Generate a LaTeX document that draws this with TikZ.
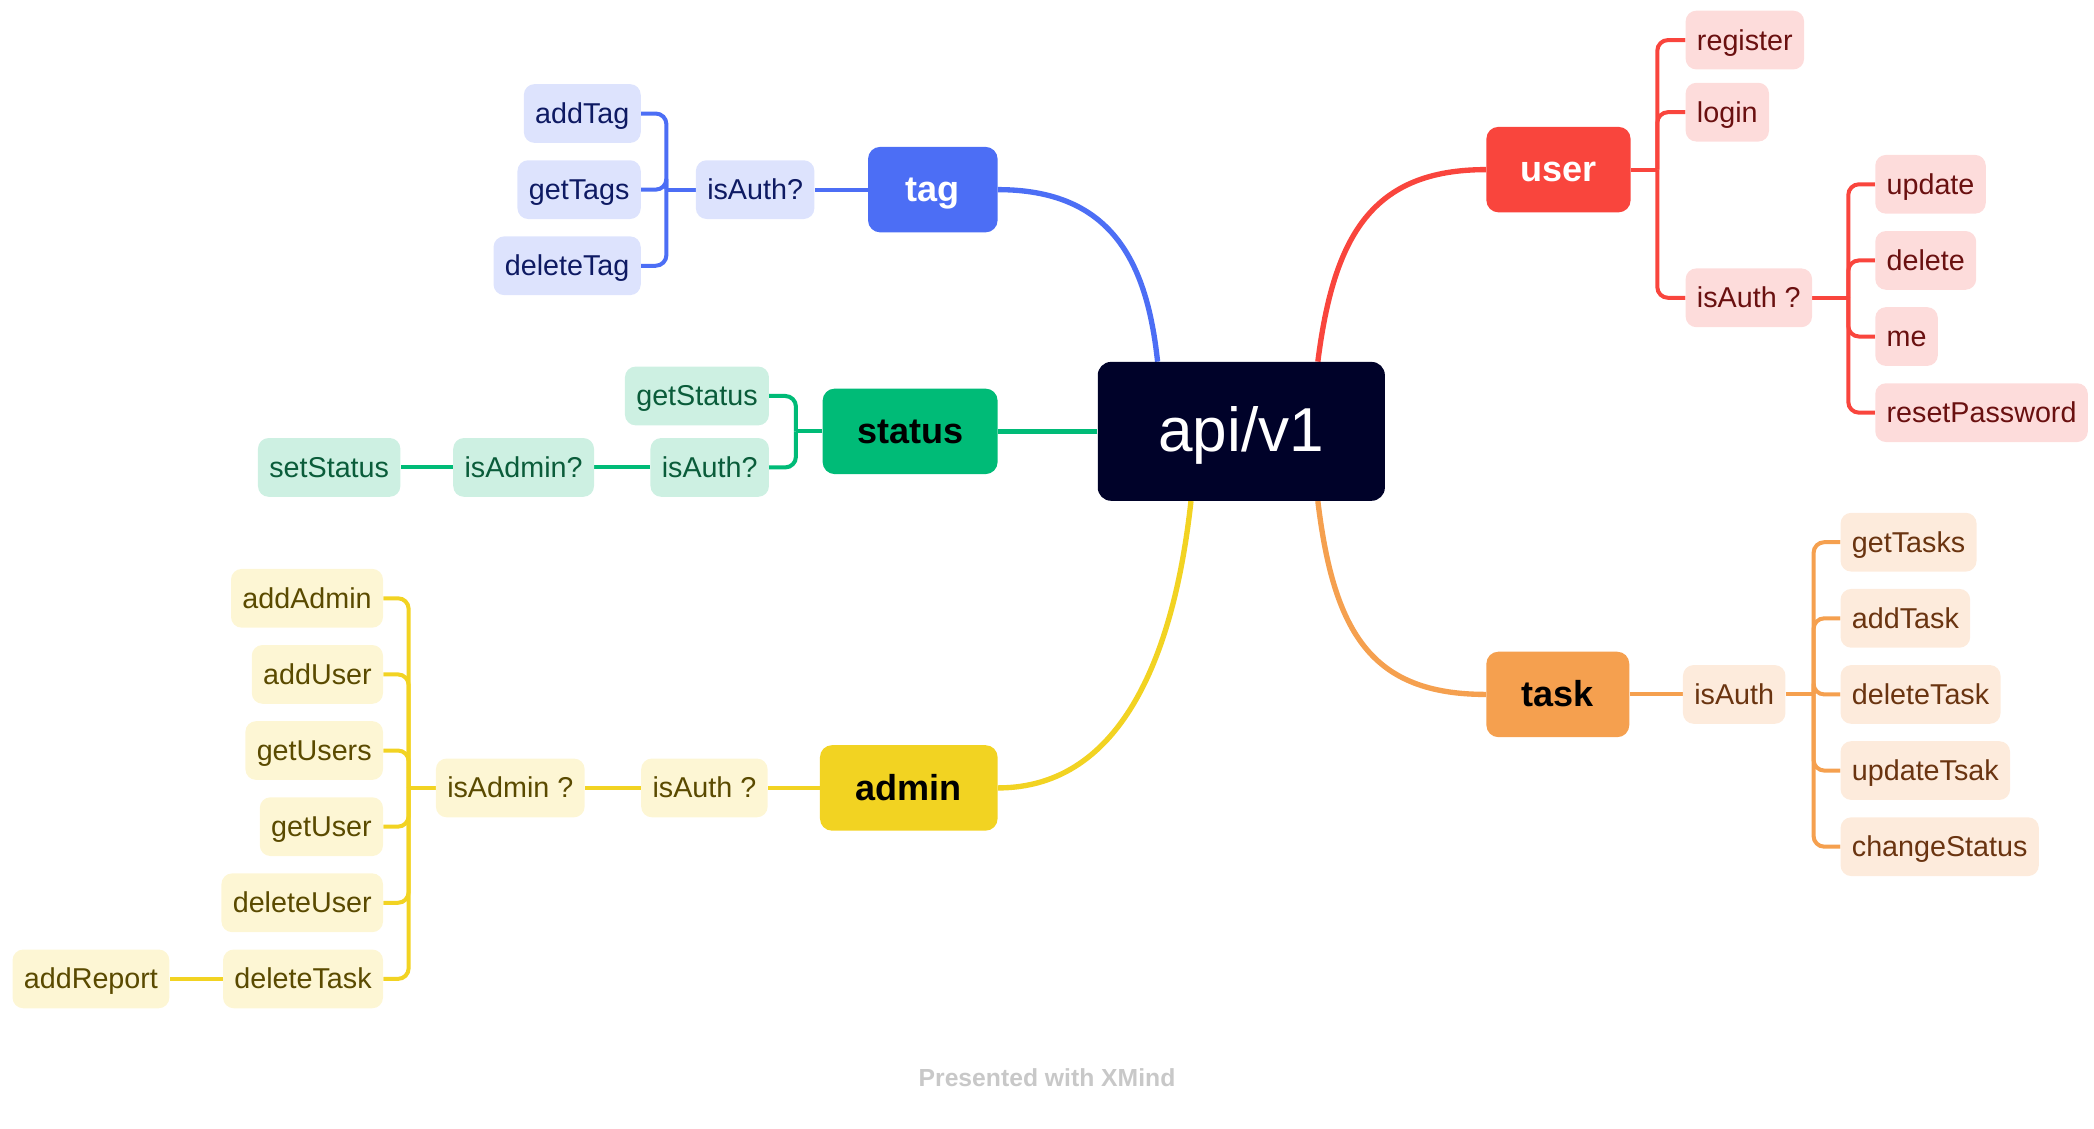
\documentclass[tikz,border=0pt]{standalone}
\usepackage{fontspec}
\setmainfont{Liberation Sans}
\usetikzlibrary{backgrounds,calc}
\definecolor{rootc}{HTML}{000229}
\definecolor{blueM}{HTML}{4C6EF5}
\definecolor{blueL}{HTML}{DDE3FD}
\definecolor{blueT}{HTML}{0E1A63}
\definecolor{greenM}{HTML}{00BB77}
\definecolor{greenL}{HTML}{CDF0E2}
\definecolor{greenT}{HTML}{0A5C3A}
\definecolor{yelM}{HTML}{F2D322}
\definecolor{yelL}{HTML}{FDF6D4}
\definecolor{yelT}{HTML}{5A4A00}
\definecolor{redM}{HTML}{F9453D}
\definecolor{redL}{HTML}{FDDCDB}
\definecolor{redT}{HTML}{6A1010}
\definecolor{oraM}{HTML}{F5A04F}
\definecolor{oraL}{HTML}{FDEBDC}
\definecolor{oraT}{HTML}{6A3410}
\definecolor{footc}{HTML}{C8C8C8}
\begin{document}
\begin{tikzpicture}[x=1pt,y=-1pt,
  leaf/.style={rectangle, rounded corners=8pt, minimum height=44pt, inner xsep=8.5pt, inner ysep=0pt,
    text height=17pt, text depth=2pt, font=\fontsize{21.5}{24}\selectfont},
  hub/.style={rectangle, rounded corners=9pt, minimum height=64pt, inner xsep=0pt, inner ysep=0pt,
    text height=21.5pt, text depth=3pt, font=\fontsize{27}{30}\selectfont\bfseries},
  leafB/.style={leaf, fill=blueL, text=blueT},
  leafG/.style={leaf, fill=greenL, text=greenT},
  leafY/.style={leaf, fill=yelL, text=yelT},
  leafR/.style={leaf, fill=redL, text=redT},
  leafO/.style={leaf, fill=oraL, text=oraT},
  conn/.style={line width=3pt},
  trunk/.style={line width=4pt},
  elbow/.style={conn, rounded corners=8pt}]
\useasboundingbox (0,0) rectangle (1568,845);

% root
\node[rectangle, rounded corners=10pt, fill=rootc, text=white, minimum width=215pt, minimum height=104pt,
  inner sep=0pt, text height=36pt, text depth=6pt, font=\fontsize{46.5}{50}\selectfont] (api) at (929.5,323) {api/v1};

% main branches
\node[hub, fill=blueM, text=white, minimum width=97pt] (tag) at (698.5,142) {tag};
\node[hub, fill=greenM, text=black, minimum width=131pt] (status) at (681.5,323) {status};
\node[hub, fill=yelM, text=black, minimum width=133pt] (admin) at (680.5,590) {admin};
\node[hub, fill=redM, text=white, minimum width=108pt] (user) at (1167,127) {user};
\node[hub, fill=oraM, text=black, minimum width=107pt] (task) at (1166.5,520) {task};

% tag branch
\node[leafB, anchor=east] (tgAuth) at (610,142) {isAuth?};
\node[leafB, anchor=east] (tgAdd) at (480,85) {addTag};
\node[leafB, anchor=east] (tgGet) at (480,142) {getTags};
\node[leafB, anchor=east] (tgDel) at (480,199) {deleteTag};
\coordinate (tgB) at (499,142);

% status branch
\node[leafG, anchor=east] (stGet) at (576,296.5) {getStatus};
\node[leafG, anchor=east] (stAuth) at (576,350) {isAuth?};
\node[leafG, anchor=east] (stAdmin) at (445,350) {isAdmin?};
\node[leafG, anchor=east] (stSet) at (300,350) {setStatus};
\coordinate (stB) at (596,323);

% admin branch
\node[leafY, anchor=east] (adAuth) at (575,590) {isAuth ?};
\node[leafY, anchor=east] (adAdmin) at (438,590) {isAdmin ?};
\node[leafY, anchor=east] (adAddAdmin) at (287,448) {addAdmin};
\node[leafY, anchor=east] (adAddUser) at (287,505) {addUser};
\node[leafY, anchor=east] (adGetUsers) at (287,562) {getUsers};
\node[leafY, anchor=east] (adGetUser) at (287,619) {getUser};
\node[leafY, anchor=east] (adDelUser) at (287,676) {deleteUser};
\node[leafY, anchor=east] (adDelTask) at (287,733) {deleteTask};
\node[leafY, anchor=east] (adReport) at (127,733) {addReport};
\coordinate (adB) at (306,590);

% user branch
\node[leafR, anchor=west] (usReg) at (1262,30) {register};
\node[leafR, anchor=west] (usLogin) at (1262,84) {login};
\node[leafR, anchor=west] (usAuth) at (1262,223) {isAuth ?};
\node[leafR, anchor=west] (usUpd) at (1404,138) {update};
\node[leafR, anchor=west] (usDel) at (1404,195) {delete};
\node[leafR, anchor=west] (usMe) at (1404,252) {me};
\node[leafR, anchor=west] (usReset) at (1404,309) {resetPassword};
\coordinate (usB) at (1241,127);
\coordinate (usB2) at (1384,223);

% task branch
\node[leafO, anchor=west] (tkAuth) at (1260,520) {isAuth};
\node[leafO, anchor=west] (tkGet) at (1378,406) {getTasks};
\node[leafO, anchor=west] (tkAdd) at (1378,463) {addTask};
\node[leafO, anchor=west] (tkDel) at (1378,520) {deleteTask};
\node[leafO, anchor=west] (tkUpd) at (1378,577) {updateTsak};
\node[leafO, anchor=west] (tkChg) at (1378,634) {changeStatus};
\coordinate (tkB) at (1358,520);

% footer
\node[text=footc, font=\fontsize{18.5}{20}\selectfont\bfseries, inner sep=0pt] (foot) at (784,807) {Presented with XMind};

\begin{pgfonlayer}{background}
  % trunks
  \draw[trunk, blueM] ($(api.north west)+(45,0)$) .. controls +(-8,-75) and +(85,0) .. (tag.east);
  \draw[trunk, greenM] (api.west) -- (status.east);
  \draw[trunk, yelM] ($(api.south west)+(70,0)$) .. controls +(-12,110) and +(95,0) .. (admin.east);
  \draw[trunk, redM] ($(api.north west)+(165,0)$) .. controls +(12,-95) and +(-85,0) .. (user.west);
  \draw[trunk, oraM] ($(api.south west)+(165,0)$) .. controls +(12,100) and +(-85,0) .. (task.west);

  % tag
  \draw[conn, blueM] (tag.west) -- (tgAuth.east);
  \draw[conn, blueM] (tgAuth.west) -- (tgB);
  \draw[elbow, blueM] (tgB) |- (tgAdd.east);
  \draw[elbow, blueM] (tgB) |- (tgGet.east);
  \draw[elbow, blueM] (tgB) |- (tgDel.east);

  % status
  \draw[conn, greenM] (status.west) -- (stB);
  \draw[elbow, greenM] (stB) |- (stGet.east);
  \draw[elbow, greenM] (stB) |- (stAuth.east);
  \draw[conn, greenM] (stAuth.west) -- (stAdmin.east);
  \draw[conn, greenM] (stAdmin.west) -- (stSet.east);

  % admin
  \draw[conn, yelM] (admin.west) -- (adAuth.east);
  \draw[conn, yelM] (adAuth.west) -- (adAdmin.east);
  \draw[conn, yelM] (adAdmin.west) -- (adB);
  \draw[elbow, yelM] (adB) |- (adAddAdmin.east);
  \draw[elbow, yelM] (adB) |- (adAddUser.east);
  \draw[elbow, yelM] (adB) |- (adGetUsers.east);
  \draw[elbow, yelM] (adB) |- (adGetUser.east);
  \draw[elbow, yelM] (adB) |- (adDelUser.east);
  \draw[elbow, yelM] (adB) |- (adDelTask.east);
  \draw[conn, yelM] (adDelTask.west) -- (adReport.east);

  % user
  \draw[conn, redM] (user.east) -- (usB);
  \draw[elbow, redM] (usB) |- (usReg.west);
  \draw[elbow, redM] (usB) |- (usLogin.west);
  \draw[elbow, redM] (usB) |- (usAuth.west);
  \draw[conn, redM] (usAuth.east) -- (usB2);
  \draw[elbow, redM] (usB2) |- (usUpd.west);
  \draw[elbow, redM] (usB2) |- (usDel.west);
  \draw[elbow, redM] (usB2) |- (usMe.west);
  \draw[elbow, redM] (usB2) |- (usReset.west);

  % task
  \draw[conn, oraM] (task.east) -- (tkAuth.west);
  \draw[conn, oraM] (tkAuth.east) -- (tkB);
  \draw[elbow, oraM] (tkB) |- (tkGet.west);
  \draw[elbow, oraM] (tkB) |- (tkAdd.west);
  \draw[elbow, oraM] (tkB) |- (tkDel.west);
  \draw[elbow, oraM] (tkB) |- (tkUpd.west);
  \draw[elbow, oraM] (tkB) |- (tkChg.west);
\end{pgfonlayer}
\end{tikzpicture}
\end{document}
